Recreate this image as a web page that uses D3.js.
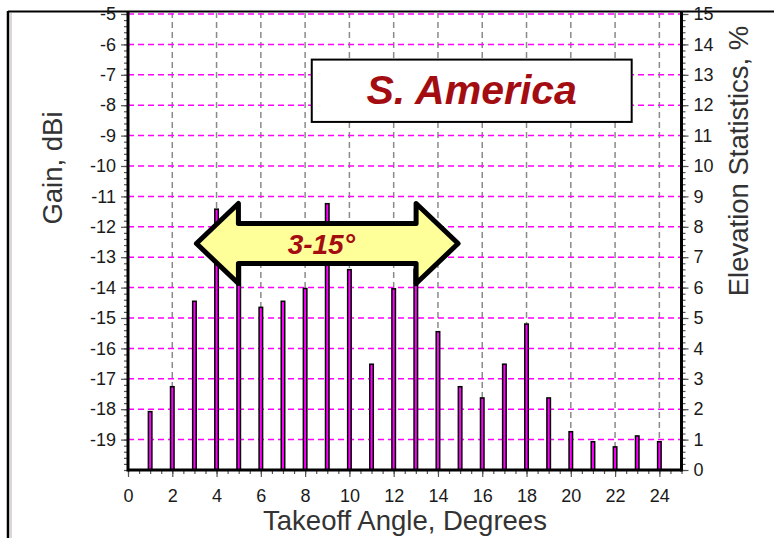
<!DOCTYPE html>
<html>
<head>
<meta charset="utf-8">
<script src="https://cdn.jsdelivr.net/npm/d3@7"></script>
<style>
  body { margin: 0; background: #fff; }
  svg { display: block; font-family: "Liberation Sans", Arial, sans-serif; }
</style>
</head>
<body>
<div id="chart"></div>
<script>
// takeoff angles (degrees) and elevation statistics (%)
const angles = [1, 2, 3, 4, 5, 6, 7, 8, 9, 10, 11, 12, 13, 14, 15, 16, 17, 18, 19, 20, 21, 22, 23, 24];
const elevPct = [1.92, 2.74, 5.55, 8.58, 7.1, 5.35, 5.55, 5.97, 8.76, 6.59, 3.48, 5.96, 6.6, 4.55, 2.74, 2.37, 3.48, 4.8, 2.37, 1.26, 0.93, 0.76, 1.12, 0.93];

const xTicks = [0, 2, 4, 6, 8, 10, 12, 14, 16, 18, 20, 22, 24];
const gainTicks = [-5, -6, -7, -8, -9, -10, -11, -12, -13, -14, -15, -16, -17, -18, -19];
const pctTicks = [0, 1, 2, 3, 4, 5, 6, 7, 8, 9, 10, 11, 12, 13, 14, 15];

const title = "S. America";
const rangeLabel = "3-15°";
const rangeFrom = 3, rangeTo = 15;

drawChart();

function drawChart() {
  const width = 774;
  const height = 538;

  const left = 128, right = 681.5, top = 14, bottom = 470;

  const svg = d3.select("#chart")
    .append("svg")
    .attr("width", width)
    .attr("height", height);

  const x = d3.scaleLinear().domain([0, 25]).range([left, right]);
  const yGain = d3.scaleLinear().domain([-20, -5]).range([bottom, top]);
  const yPct = d3.scaleLinear().domain([0, 15]).range([bottom, top]);

  // window frame
  svg.append("line").attr("x1", 8).attr("x2", width).attr("y1", 11.5).attr("y2", 11.5)
    .attr("stroke", "#000").attr("stroke-width", 2);
  svg.append("line").attr("x1", 8).attr("x2", 8).attr("y1", 11).attr("y2", height)
    .attr("stroke", "#000").attr("stroke-width", 2.5);
  svg.append("line").attr("x1", 11).attr("x2", 11).attr("y1", 13).attr("y2", height)
    .attr("stroke", "#cfcbc4").attr("stroke-width", 1.5);

  // vertical grid
  svg.append("g")
    .selectAll("line")
    .data(xTicks.filter(d => d > 0))
    .enter()
    .append("line")
    .attr("x1", d => x(d)).attr("x2", d => x(d))
    .attr("y1", 12).attr("y2", bottom)
    .attr("stroke", "#8a8a8a")
    .attr("stroke-width", 1.5)
    .attr("stroke-dasharray", "6,4");

  // horizontal grid
  svg.append("g")
    .selectAll("line")
    .data(pctTicks.filter(d => d > 0))
    .enter()
    .append("line")
    .attr("x1", left).attr("x2", right)
    .attr("y1", d => yPct(d)).attr("y2", d => yPct(d))
    .attr("stroke", "#ff00ff")
    .attr("stroke-width", 1.5)
    .attr("stroke-dasharray", "6,4");

  // bars
  svg.append("g")
    .selectAll("rect")
    .data(angles)
    .enter()
    .append("rect")
    .attr("x", d => x(d) - 1.75)
    .attr("width", 3.5)
    .attr("y", (d, i) => yPct(elevPct[i]))
    .attr("height", (d, i) => bottom - yPct(elevPct[i]))
    .attr("fill", "#ff00ff")
    .attr("stroke", "#000")
    .attr("stroke-width", 1.5);

  // axes (plain hyphen for negatives, like the original)
  const fmt = d => String(d);

  const gx = svg.append("g").attr("transform", `translate(0,${bottom})`)
    .call(d3.axisBottom(x).tickValues(d3.range(0, 25.01, 0.5)).tickSize(4).tickFormat(""));
  gx.append("g")
    .call(d3.axisBottom(x).tickValues(xTicks).tickSize(7).tickPadding(12).tickFormat(fmt));

  const gl = svg.append("g").attr("transform", `translate(${left},0)`)
    .call(d3.axisLeft(yGain).tickValues(d3.range(-20, -4.99, 0.2)).tickSize(4).tickFormat(""));
  gl.append("g")
    .call(d3.axisLeft(yGain).tickValues(gainTicks).tickSize(7).tickPadding(5).tickFormat(fmt));

  const gr = svg.append("g").attr("transform", `translate(${right},0)`)
    .call(d3.axisRight(yPct).tickValues(d3.range(0, 15.01, 0.2)).tickSize(4).tickFormat(""));
  gr.append("g")
    .call(d3.axisRight(yPct).tickValues(pctTicks).tickSize(7).tickPadding(5).tickFormat(fmt));

  svg.selectAll(".domain").remove();
  svg.selectAll(".tick line").attr("stroke", "#555").attr("stroke-width", 1.2);
  svg.selectAll(".tick text").attr("font-size", 18).attr("fill", "#1a1a1a")
    .attr("font-family", "Liberation Sans, Arial, sans-serif");

  // thick axis lines
  svg.append("line").attr("x1", left).attr("x2", left).attr("y1", 12).attr("y2", bottom + 1.5)
    .attr("stroke", "#000").attr("stroke-width", 3);
  svg.append("line").attr("x1", right).attr("x2", right).attr("y1", 12).attr("y2", bottom + 1.5)
    .attr("stroke", "#000").attr("stroke-width", 3);
  svg.append("line").attr("x1", left).attr("x2", right).attr("y1", bottom).attr("y2", bottom)
    .attr("stroke", "#000").attr("stroke-width", 3);

  // axis titles
  svg.append("text")
    .attr("transform", `translate(62,${168}) rotate(-90)`)
    .attr("text-anchor", "middle")
    .attr("font-size", 27.5)
    .attr("fill", "#333")
    .text("Gain, dBi");

  svg.append("text")
    .attr("transform", `translate(748,${161}) rotate(-90)`)
    .attr("text-anchor", "middle")
    .attr("font-size", 27.5)
    .attr("fill", "#333")
    .text("Elevation Statistics, %");

  svg.append("text")
    .attr("x", 405)
    .attr("y", 530)
    .attr("text-anchor", "middle")
    .attr("font-size", 27.5)
    .attr("fill", "#333")
    .text("Takeoff Angle, Degrees");

  // title box
  const bx0 = x(8.3), bx1 = x(22.75), by0 = yPct(13.5), by1 = yPct(11.45);
  svg.append("rect")
    .attr("x", bx0).attr("y", by0)
    .attr("width", bx1 - bx0).attr("height", by1 - by0)
    .attr("fill", "#fff").attr("stroke", "#000").attr("stroke-width", 2);
  svg.append("text")
    .attr("x", (bx0 + bx1) / 2)
    .attr("y", by1 - 18)
    .attr("text-anchor", "middle")
    .attr("font-size", 41)
    .attr("font-weight", "bold")
    .attr("font-style", "italic")
    .attr("fill", "#a30d12")
    .text(title);

  // double arrow 3-15 deg
  const ax0 = x(rangeFrom) + 2, ax1 = x(rangeTo) - 2, ay = yPct(7.45);
  const head = 42, hh = 40, bh = 20;
  const pts = [
    [ax0, ay], [ax0 + head, ay - hh], [ax0 + head, ay - bh],
    [ax1 - head, ay - bh], [ax1 - head, ay - hh], [ax1, ay],
    [ax1 - head, ay + hh], [ax1 - head, ay + bh], [ax0 + head, ay + bh],
    [ax0 + head, ay + hh]
  ];
  svg.append("path")
    .attr("d", d3.line()(pts) + "Z")
    .attr("fill", "#ffff99")
    .attr("stroke", "#000")
    .attr("stroke-width", 5)
    .attr("stroke-linejoin", "round");
  svg.append("text")
    .attr("x", (ax0 + ax1) / 2 - 6)
    .attr("y", ay + 10)
    .attr("text-anchor", "middle")
    .attr("font-size", 28)
    .attr("font-weight", "bold")
    .attr("font-style", "italic")
    .attr("fill", "#a30d12")
    .text(rangeLabel);
}
</script>
</body>
</html>
